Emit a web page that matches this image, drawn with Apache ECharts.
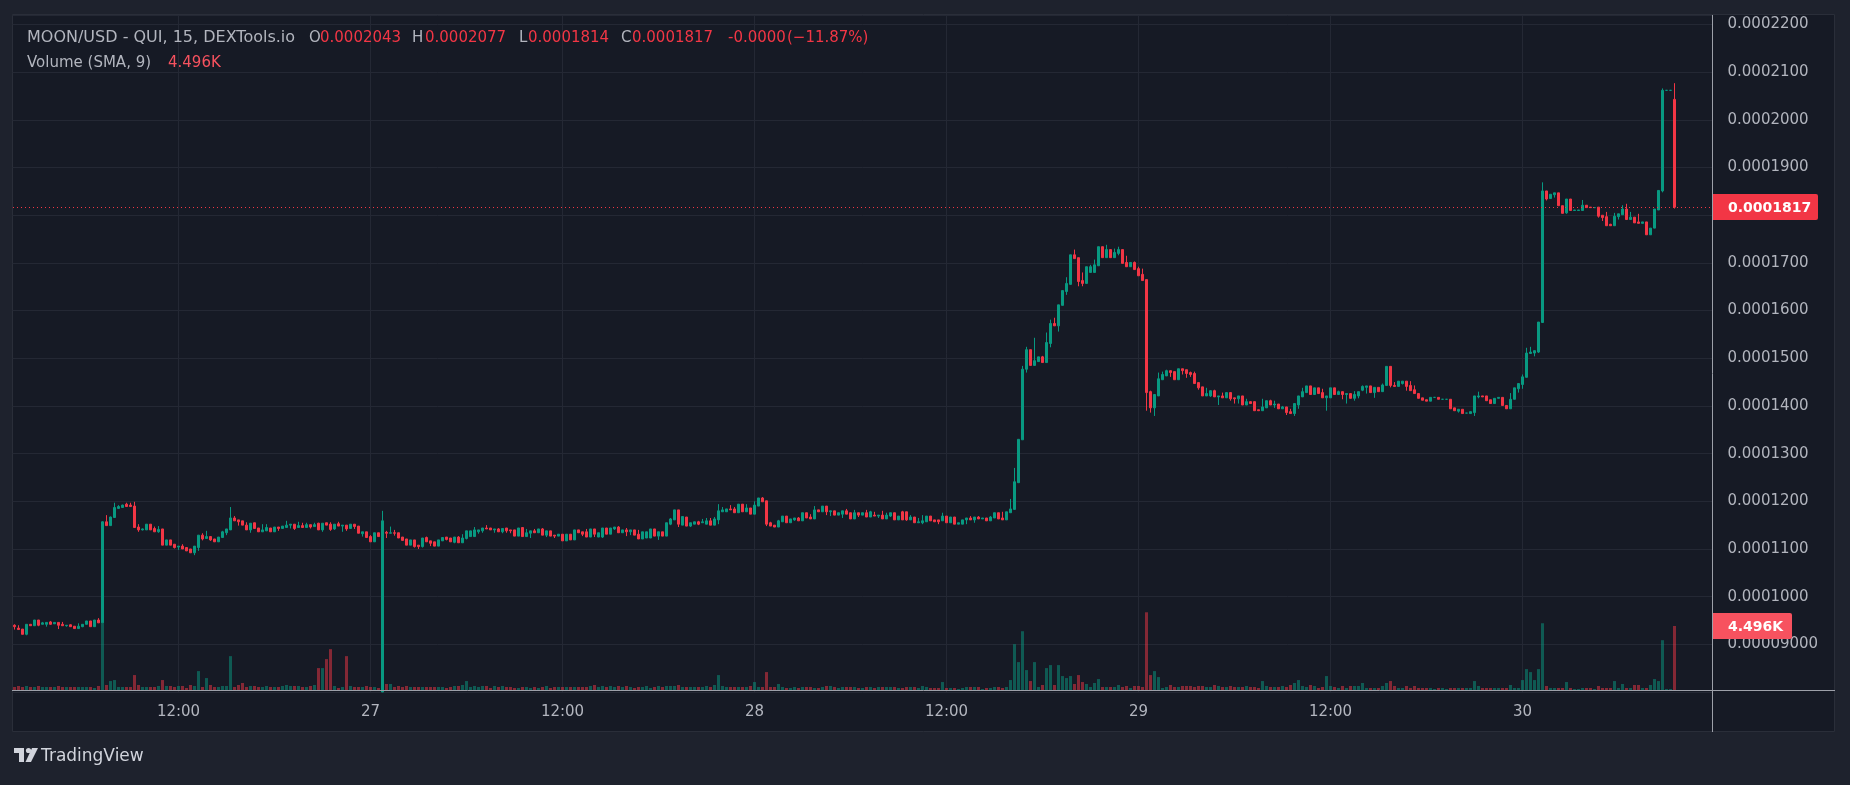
<!DOCTYPE html>
<html><head><meta charset="utf-8">
<script src="https://cdn.jsdelivr.net/npm/echarts@6/dist/echarts.min.js"></script>
<style>html,body{margin:0;padding:0;background:#1E222D;}#c{width:1850px;height:785px;}</style>
</head><body><div id="c"></div>
<script>
// ---- time slots (15-minute candles starting 26th 01:45) ----
const START_DAY = 26, START_MIN = 105, SLOT_MIN = 15, SLOT_COUNT = 425;
// ---- prices in units of 1e-7 USD ----
const PRICE_SCALE = 1e-7;
const openE7 = [
940,934,932,921,942,939,951,942,942,947,
943,946,942,939,941,938,933,937,942,949,
937,951,945,1157,1149,1166,1185,1187,1194,1192,
1190,1146,1140,1140,1152,1143,1136,1142,1108,1119,
1110,1104,1106,1103,1100,1092,1103,1129,1122,1126,
1121,1115,1124,1134,1140,1165,1161,1159,1150,1140,
1155,1144,1136,1138,1144,1136,1146,1143,1145,1150,
1152,1145,1149,1145,1151,1147,1154,1140,1155,1152,
1142,1153,1148,1150,1143,1152,1148,1132,1136,1126,
1115,1134,800,1135,1133,1134,1134,1125,1121,1108,
1119,1108,1105,1124,1117,1115,1106,1117,1125,1123,
1114,1125,1113,1122,1126,1126,1136,1138,1144,1144,
1140,1142,1136,1144,1140,1140,1127,1145,1126,1133,
1138,1134,1142,1129,1138,1129,1127,1131,1117,1131,
1119,1140,1136,1136,1125,1142,1125,1125,1144,1131,
1142,1146,1134,1140,1136,1140,1131,1121,1123,1123,
1142,1127,1136,1127,1152,1161,1182,1150,1167,1148,
1152,1157,1155,1152,1159,1150,1161,1178,1178,1184,
1184,1176,1194,1178,1186,1173,1190,1207,1201,1155,
1150,1146,1157,1169,1155,1161,1165,1159,1176,1167,
1163,1182,1178,1190,1178,1180,1171,1173,1180,1176,
1163,1176,1171,1176,1167,1171,1169,1171,1163,1169,
1176,1161,1178,1178,1161,1167,1155,1155,1157,1169,
1161,1161,1159,1169,1155,1167,1152,1152,1161,1165,
1161,1167,1163,1165,1159,1165,1176,1165,1161,1176,
1183,1239,1329,1477,1518,1485,1493,1503,1491,1531,
1573,1568,1611,1640,1655,1717,1711,1663,1657,1680,
1680,1694,1734,1711,1728,1711,1720,1728,1701,1692,
1701,1688,1676,1665,1430,1396,1421,1455,1463,1474,
1472,1455,1478,1476,1470,1468,1449,1440,1421,1421,
1432,1419,1421,1417,1428,1417,1415,1421,1402,1409,
1409,1392,1390,1396,1411,1402,1404,1394,1398,1388,
1384,1402,1419,1428,1442,1424,1438,1428,1417,1417,
1438,1424,1430,1424,1426,1416,1421,1433,1439,1442,
1428,1439,1430,1443,1483,1443,1441,1447,1452,1443,
1434,1426,1417,1413,1410,1418,1418,1414,1414,1414,
1396,1389,1393,1385,1384,1386,1419,1421,1421,1413,
1405,1416,1418,1401,1394,1414,1436,1445,1460,1510,
1511,1513,1575,1851,1835,1843,1847,1820,1805,1834,
1810,1810,1810,1821,1817,1816,1817,1800,1797,1781,
1778,1797,1801,1813,1791,1796,1786,1783,1786,1759,
1773,1811,1851,2062,2062,2043];
const highE7 = [
942,940,932,942,942,951,951,947,946,949,
946,946,947,940,942,938,944,942,949,949,
951,955,1158,1171,1168,1197,1192,1193,1197,1197,
1199,1152,1143,1152,1152,1147,1148,1142,1119,1119,
1110,1106,1110,1103,1100,1106,1129,1133,1138,1127,
1121,1125,1138,1142,1188,1169,1161,1159,1156,1154,
1155,1144,1152,1152,1144,1146,1146,1148,1159,1152,
1152,1157,1155,1155,1151,1155,1155,1154,1155,1156,
1152,1157,1150,1150,1152,1152,1148,1136,1136,1129,
1134,1134,1180,1138,1147,1140,1134,1125,1121,1119,
1119,1108,1123,1126,1117,1115,1119,1124,1125,1123,
1125,1127,1131,1138,1138,1146,1140,1144,1150,1144,
1142,1144,1143,1144,1140,1140,1144,1146,1142,1138,
1142,1142,1144,1138,1138,1129,1131,1131,1131,1131,
1140,1140,1136,1142,1142,1142,1134,1144,1144,1144,
1146,1148,1140,1144,1140,1140,1140,1136,1136,1142,
1142,1136,1136,1155,1165,1182,1182,1168,1167,1155,
1157,1159,1163,1165,1165,1167,1194,1188,1184,1192,
1188,1194,1194,1194,1186,1200,1207,1209,1201,1157,
1150,1161,1169,1169,1163,1165,1167,1176,1176,1173,
1190,1182,1190,1190,1180,1180,1176,1180,1184,1176,
1182,1176,1176,1182,1180,1178,1171,1180,1176,1176,
1176,1169,1180,1178,1171,1167,1165,1171,1169,1169,
1161,1161,1176,1169,1167,1167,1155,1161,1165,1169,
1167,1169,1165,1165,1169,1176,1176,1178,1178,1205,
1270,1330,1484,1524,1518,1543,1503,1505,1554,1581,
1585,1612,1642,1670,1717,1728,1711,1680,1692,1696,
1707,1734,1734,1738,1728,1730,1734,1728,1715,1701,
1703,1692,1688,1665,1432,1424,1470,1472,1476,1474,
1472,1478,1478,1476,1472,1472,1449,1440,1438,1432,
1434,1421,1428,1428,1428,1417,1421,1421,1415,1409,
1409,1392,1415,1411,1413,1411,1404,1400,1398,1394,
1405,1421,1438,1442,1442,1438,1438,1436,1421,1438,
1438,1432,1430,1426,1426,1431,1430,1443,1442,1442,
1439,1439,1447,1483,1483,1450,1452,1452,1452,1452,
1443,1426,1417,1413,1418,1418,1418,1414,1414,1414,
1396,1393,1393,1385,1388,1421,1430,1421,1421,1413,
1416,1418,1418,1401,1427,1438,1447,1466,1522,1524,
1516,1576,1869,1851,1844,1847,1847,1820,1834,1834,
1811,1811,1832,1821,1817,1816,1817,1800,1807,1782,
1805,1803,1821,1824,1807,1796,1803,1786,1786,1773,
1813,1852,2066,2062,2062,2077];
const lowE7 = [
931,930,921,919,939,939,938,942,937,941,
943,932,939,937,937,933,933,936,942,937,
937,945,945,1149,1149,1166,1185,1187,1189,1189,
1145,1136,1139,1140,1140,1136,1134,1108,1108,1108,
1101,1098,1100,1096,1092,1087,1096,1118,1122,1117,
1115,1115,1124,1129,1140,1159,1149,1150,1140,1134,
1143,1136,1136,1138,1136,1136,1138,1143,1145,1143,
1140,1145,1145,1145,1143,1147,1140,1136,1150,1138,
1140,1148,1136,1138,1143,1142,1133,1126,1124,1115,
1115,1126,800,1123,1133,1128,1123,1118,1108,1108,
1103,1100,1103,1115,1106,1106,1106,1117,1118,1115,
1112,1113,1113,1120,1126,1126,1132,1134,1142,1140,
1134,1136,1133,1134,1133,1127,1127,1126,1126,1123,
1134,1134,1129,1125,1127,1123,1127,1117,1117,1119,
1119,1134,1127,1125,1125,1125,1125,1123,1131,1131,
1140,1134,1134,1127,1129,1129,1121,1121,1123,1123,
1127,1119,1127,1127,1150,1161,1146,1150,1148,1146,
1152,1150,1155,1152,1150,1150,1152,1178,1178,1182,
1176,1176,1178,1178,1173,1173,1190,1199,1148,1148,
1146,1146,1157,1155,1155,1159,1159,1159,1165,1163,
1163,1178,1178,1171,1169,1171,1171,1165,1173,1163,
1163,1167,1171,1167,1167,1169,1165,1163,1163,1167,
1161,1161,1161,1159,1161,1155,1155,1152,1157,1159,
1157,1152,1159,1155,1155,1152,1152,1152,1152,1161,
1155,1163,1163,1159,1159,1165,1163,1161,1161,1176,
1183,1239,1329,1470,1485,1485,1493,1491,1491,1523,
1568,1556,1611,1633,1655,1709,1651,1651,1657,1680,
1680,1694,1711,1711,1711,1711,1716,1699,1692,1692,
1686,1673,1663,1390,1386,1379,1421,1455,1463,1461,
1455,1455,1466,1459,1461,1447,1434,1421,1421,1419,
1419,1402,1417,1417,1411,1405,1405,1402,1402,1405,
1390,1390,1390,1396,1402,1396,1394,1394,1381,1384,
1379,1394,1419,1428,1424,1424,1426,1417,1390,1417,
1424,1424,1414,1405,1416,1411,1416,1431,1426,1428,
1417,1430,1430,1443,1439,1441,1441,1445,1432,1432,
1426,1416,1412,1410,1410,1418,1414,1414,1414,1394,
1390,1386,1384,1385,1384,1379,1416,1419,1411,1405,
1405,1416,1401,1394,1394,1414,1428,1436,1460,1510,
1504,1511,1575,1831,1835,1837,1820,1804,1803,1810,
1810,1810,1810,1816,1816,1816,1795,1788,1778,1778,
1778,1791,1801,1791,1791,1784,1783,1783,1759,1759,
1773,1811,1848,2062,2062,1814];
const closeE7 = [
937,931,921,942,939,951,940,945,946,942,
946,940,939,940,937,933,938,942,949,937,
951,945,1157,1149,1167,1187,1189,1192,1189,1189,
1145,1140,1142,1152,1140,1136,1141,1108,1119,1108,
1103,1106,1100,1096,1092,1106,1129,1121,1126,1119,
1115,1125,1136,1142,1165,1159,1157,1150,1140,1154,
1143,1136,1140,1145,1136,1146,1143,1148,1150,1152,
1143,1149,1145,1151,1146,1151,1140,1154,1150,1141,
1152,1148,1150,1142,1152,1147,1133,1136,1124,1115,
1134,1126,1159,1133,1134,1133,1123,1118,1108,1119,
1105,1105,1123,1115,1112,1106,1119,1124,1120,1115,
1125,1113,1123,1138,1138,1140,1140,1144,1142,1140,
1142,1136,1143,1138,1138,1127,1144,1126,1134,1138,
1134,1142,1129,1138,1127,1127,1131,1117,1131,1119,
1140,1134,1131,1125,1142,1131,1134,1144,1131,1144,
1146,1134,1140,1136,1140,1129,1121,1136,1136,1142,
1127,1136,1127,1155,1163,1182,1152,1168,1148,1155,
1157,1152,1157,1159,1150,1163,1180,1182,1184,1182,
1176,1194,1178,1186,1173,1192,1207,1199,1152,1148,
1146,1159,1169,1155,1163,1165,1159,1176,1165,1163,
1182,1178,1190,1178,1180,1171,1176,1180,1173,1163,
1176,1171,1176,1167,1178,1169,1171,1163,1171,1176,
1161,1169,1161,1161,1167,1155,1157,1159,1169,1159,
1157,1157,1169,1155,1167,1152,1155,1161,1165,1161,
1167,1163,1165,1159,1167,1176,1163,1161,1178,1184,
1241,1330,1477,1518,1485,1495,1503,1491,1533,1573,
1568,1612,1642,1657,1717,1709,1661,1657,1692,1692,
1696,1734,1711,1728,1711,1722,1728,1699,1692,1701,
1686,1673,1663,1428,1396,1424,1457,1466,1474,1470,
1455,1478,1474,1468,1466,1447,1438,1421,1426,1432,
1419,1421,1417,1428,1415,1415,1421,1402,1409,1405,
1390,1390,1398,1411,1402,1404,1394,1398,1386,1384,
1405,1421,1430,1442,1424,1438,1426,1417,1421,1438,
1424,1430,1424,1426,1416,1424,1430,1441,1442,1428,
1439,1430,1444,1483,1443,1441,1452,1452,1441,1432,
1426,1416,1412,1410,1418,1418,1414,1414,1414,1394,
1390,1393,1384,1385,1388,1421,1421,1419,1411,1405,
1416,1418,1401,1394,1414,1438,1447,1461,1511,1513,
1516,1576,1851,1834,1844,1847,1820,1804,1834,1810,
1811,1811,1821,1816,1816,1816,1798,1795,1778,1778,
1798,1803,1813,1791,1796,1784,1783,1786,1759,1773,
1813,1852,2062,2062,2062,1817];
const volume = [
210,280,210,280,210,210,280,210,210,210,210,280,210,210,210,210,210,210,210,210,140,280,
4690,350,630,700,210,210,210,210,1050,
350,210,210,210,210,280,700,280,280,210,
280,280,140,350,280,1330,210,840,350,210,
210,280,280,2380,210,350,490,210,280,280,
210,210,280,210,210,210,280,350,280,280,
280,210,210,280,350,1540,1540,2170,2870,280,
140,210,2380,280,210,210,210,280,210,210,
140,2800,420,420,210,280,210,280,210,210,
210,210,210,210,210,210,210,140,210,280,
280,350,630,210,280,210,280,280,140,280,
210,280,210,210,140,140,210,210,140,210,
140,210,280,140,210,210,210,210,210,210,
210,210,210,280,350,210,280,210,280,210,
280,210,280,210,140,210,210,280,140,210,
280,210,280,280,280,350,210,210,210,210,
210,210,280,210,350,1050,280,210,210,210,
210,210,210,280,560,210,210,1260,210,210,
420,210,140,140,210,140,210,210,210,140,
140,210,280,280,210,140,210,210,210,210,
140,140,210,210,140,210,210,210,210,210,
140,140,210,210,210,140,280,210,140,140,
140,560,140,140,140,70,140,210,210,210,
210,70,140,140,210,210,140,210,700,3220,
1960,4130,1400,630,1960,210,350,1540,1750,350,
1750,980,840,980,420,1050,560,420,210,490,
770,210,210,210,210,350,210,280,140,280,
280,210,5460,1050,1330,910,140,210,350,210,
210,280,280,280,210,280,280,210,210,350,
280,210,210,280,210,210,210,280,210,210,
140,630,280,210,210,210,280,210,350,490,
700,280,210,350,280,140,210,980,280,210,
140,280,140,280,280,280,490,140,140,140,
140,280,490,630,280,140,140,280,140,280,
140,140,140,140,70,140,140,70,140,140,
140,140,140,140,630,280,140,140,140,140,
140,140,140,350,140,140,700,1470,1260,700,
1470,4690,280,140,140,140,140,560,140,70,
70,140,140,140,70,280,140,140,140,630,
140,420,140,140,350,350,140,140,350,770,
630,3500,70,70,4496];
// ---- legend texts ----
const legendTitle = 'MOON/USD - QUI, 15, DEXTools.io';
const legendChange = ['-0.0000', '(\u221211.87%)'];
const volumeLegend = 'Volume (SMA, 9)';
const volumeLast = '4.496K';
// ---- price axis ----
const PRICE_MIN = 0.00008, PRICE_MAX = 0.000222, PRICE_STEP = 0.00001;
const VOLUME_AXIS_MAX = 47420;

const UP = '#089981', DOWN = '#F23645', VOL_LABEL = '#F7525F';
const UP_VOL = 'rgba(8,153,129,0.5)', DOWN_VOL = 'rgba(242,54,69,0.5)';
const FONT = 'DejaVu Sans';
const GREY = '#B2B5BE';

const categories = [];
for (let k = 0; k < SLOT_COUNT; k++) {
  const t = START_MIN + k * SLOT_MIN;
  const d = START_DAY + Math.floor(t / 1440);
  const m = t % 1440;
  const hh = Math.floor(m / 60), mm = m % 60;
  categories.push(d + ' ' + String(hh).padStart(2, '0') + ':' + String(mm).padStart(2, '0'));
}
const isMajor = (idx) => ((START_MIN + idx * SLOT_MIN) % 720) === 0;
const xFmt = (v) => { const [d, tm] = v.split(' '); return tm === '00:00' ? d : tm; };

const n = openE7.length;
const last = n - 1;
const candles = openE7.map((o, i) => [o * PRICE_SCALE, closeE7[i] * PRICE_SCALE, lowE7[i] * PRICE_SCALE, highE7[i] * PRICE_SCALE]);
const volData = volume.map((v, i) => ({ value: v, itemStyle: { color: closeE7[i] >= openE7[i] ? UP_VOL : DOWN_VOL } }));
const lastClose = closeE7[last] * PRICE_SCALE;
const fmtP = (v) => v.toFixed(7);

const chart = echarts.init(document.getElementById('c'), null, { renderer: 'canvas' });

const textEl = (x, y, text, fill, size, weight) => ({
  type: 'text', x, y, z: 50,
  style: { text, fill, fontSize: size || 15, fontFamily: FONT, fontWeight: weight || 'normal', verticalAlign: 'middle', align: 'left' }
});
const graphics = [
  { type: 'rect', z: -100, shape: { x: 12.5, y: 14.5, width: 1822, height: 717 }, style: { fill: '#161A25', stroke: '#2A2E39', lineWidth: 1 } },
  { type: 'line', z: 40, shape: { x1: 12, y1: 690.5, x2: 1835, y2: 690.5 }, style: { stroke: '#9DA0A9', lineWidth: 1 } },
  { type: 'line', z: 40, shape: { x1: 1712.5, y1: 15, x2: 1712.5, y2: 732 }, style: { stroke: '#9DA0A9', lineWidth: 1 } },
  textEl(27, 38, legendTitle, GREY, 16),
  textEl(309, 38, 'O', GREY), textEl(320, 38, fmtP(openE7[last] * PRICE_SCALE), DOWN),
  textEl(412, 38, 'H', GREY), textEl(425, 38, fmtP(highE7[last] * PRICE_SCALE), DOWN),
  textEl(519, 38, 'L', GREY), textEl(528, 38, fmtP(lowE7[last] * PRICE_SCALE), DOWN),
  textEl(621, 38, 'C', GREY), textEl(632, 38, fmtP(closeE7[last] * PRICE_SCALE), DOWN),
  textEl(728, 38, legendChange[0], DOWN), textEl(787, 38, legendChange[1], DOWN),
  textEl(27, 63, volumeLegend, GREY), textEl(168, 63, volumeLast, VOL_LABEL),
  // TradingView logo
  { type: 'rect', z: 50, shape: { x: 14, y: 748, width: 10, height: 5 }, style: { fill: '#D1D4DC' } },
  { type: 'rect', z: 50, shape: { x: 19, y: 748, width: 5, height: 14 }, style: { fill: '#D1D4DC' } },
  { type: 'circle', z: 50, shape: { cx: 28.5, cy: 750.5, r: 2.6 }, style: { fill: '#D1D4DC' } },
  { type: 'polygon', z: 50, shape: { points: [[32, 748], [38, 748], [31, 762], [25.5, 762]] }, style: { fill: '#D1D4DC' } },
  { type: 'text', x: 41, y: 757, z: 50, style: { text: 'TradingView', fill: '#D1D4DC', fontSize: 17, fontFamily: FONT, verticalAlign: 'middle' } }
];
const lens = [openE7.length, highE7.length, lowE7.length, closeE7.length, volume.length];
if (lens.some(l => l !== lens[0])) {
  graphics.push(textEl(700, 120, 'LENGTH MISMATCH ' + lens.join(','), '#ffff00', 20));
}

chart.setOption({
  backgroundColor: 'transparent',
  animation: false,
  graphic: graphics,
  grid: [
    { left: 12.5, right: 137.5, top: 15, bottom: 93, containLabel: false },
    { left: 12.5, right: 137.5, top: 15, bottom: 95, containLabel: false }
  ],
  xAxis: [
    {
      type: 'category', gridIndex: 0, data: categories, boundaryGap: true,
      axisLine: { show: false }, axisTick: { show: false },
      axisLabel: { interval: (i) => isMajor(i), formatter: xFmt, color: GREY, fontFamily: FONT, fontSize: 15, margin: 13 },
      splitLine: { show: true, interval: (i) => isMajor(i), alignWithLabel: true, lineStyle: { color: '#242834', width: 1 } }
    },
    { type: 'category', gridIndex: 1, data: categories, boundaryGap: true, show: false }
  ],
  yAxis: [
    {
      type: 'value', gridIndex: 0, position: 'right', min: PRICE_MIN, max: PRICE_MAX, interval: PRICE_STEP,
      axisLine: { show: false }, axisTick: { show: false },
      axisLabel: {
        margin: 15, align: 'left', color: GREY, fontFamily: FONT, fontSize: 15,
        formatter: (v) => (v < 0.000085 || v > 0.0002205) ? '' : (v < 0.0000999 ? v.toFixed(8) : v.toFixed(7))
      },
      splitLine: { show: true, lineStyle: { color: '#242834', width: 1 } }
    },
    { type: 'value', gridIndex: 1, min: 0, max: VOLUME_AXIS_MAX, show: false, splitLine: { show: false } }
  ],
  series: [
    { name: 'Volume', type: 'bar', xAxisIndex: 1, yAxisIndex: 1, data: volData, barWidth: 3, z: 1, silent: true },
    {
      name: 'MOON/USD', type: 'candlestick', xAxisIndex: 0, yAxisIndex: 0, data: candles, barWidth: 2, z: 3, silent: true,
      itemStyle: { color: UP, color0: DOWN, borderColor: UP, borderColor0: DOWN, borderWidth: 1 }
    }
  ]
});

// price line + axis labels placed through the library's own scales
const yP = Math.round(chart.convertToPixel({ yAxisIndex: 0 }, lastClose));
const yV = Math.round(chart.convertToPixel({ yAxisIndex: 1 }, volume[last]));
const extra = [
  { type: 'line', z: 20, shape: { x1: 13, y1: yP + 0.5, x2: 1712, y2: yP + 0.5 }, style: { stroke: DOWN, lineWidth: 1, lineDash: [1, 3] } },
  { type: 'rect', z: 45, shape: { x: 1713, y: yP - 13, width: 105, height: 26, r: [0, 2, 2, 0] }, style: { fill: DOWN } },
  textEl(1728, yP + 1, fmtP(lastClose), '#FFFFFF', 14, 'bold'),
  { type: 'rect', z: 45, shape: { x: 1713, y: yV - 13, width: 79, height: 26, r: [0, 2, 2, 0] }, style: { fill: VOL_LABEL } },
  textEl(1728, yV + 1, volumeLast, '#FFFFFF', 14, 'bold')
];
chart.setOption({ graphic: graphics.concat(extra) });
</script></body></html>
